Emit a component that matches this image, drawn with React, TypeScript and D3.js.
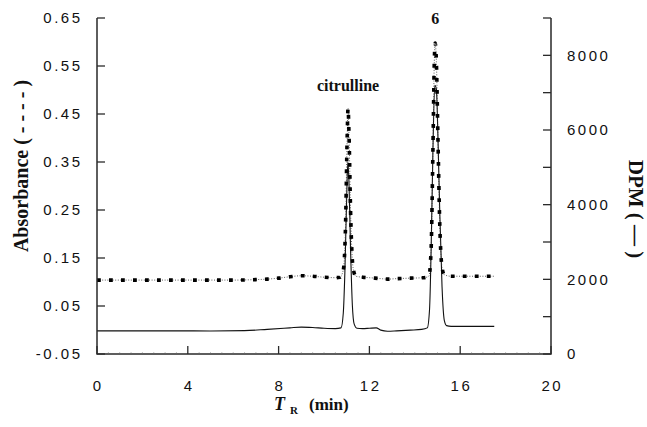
import React from "react";
import * as d3 from "d3";

// ---- data ----
const timeAbs = [0, 1, 2, 3, 4, 5, 6, 7, 7.5, 8, 8.5, 9, 9.5, 10, 10.5, 10.7, 10.85, 10.95, 11.02, 11.06, 11.1, 11.18, 11.28, 11.4, 11.7, 12, 12.5, 12.8, 13.2, 13.8, 14.4, 14.62, 14.72, 14.8, 14.86, 14.9, 14.95, 15.02, 15.1, 15.2, 15.3, 15.6, 16, 16.5, 17, 17.5];
const absorbance = [0.104, 0.104, 0.104, 0.104, 0.104, 0.104, 0.104, 0.105, 0.106, 0.108, 0.111, 0.113, 0.112, 0.11, 0.109, 0.11, 0.125, 0.22, 0.4, 0.462, 0.41, 0.23, 0.13, 0.112, 0.11, 0.109, 0.107, 0.106, 0.107, 0.108, 0.109, 0.112, 0.17, 0.38, 0.56, 0.598, 0.56, 0.4, 0.22, 0.13, 0.115, 0.112, 0.112, 0.112, 0.112, 0.112];

const timeDpm = [0, 2, 3.5, 5, 6.5, 7.5, 8.5, 9, 9.5, 10, 10.5, 10.75, 10.85, 10.92, 11.0, 11.05, 11.1, 11.17, 11.25, 11.33, 11.45, 11.7, 12, 12.3, 12.5, 12.8, 13.2, 13.8, 14.3, 14.55, 14.65, 14.72, 14.8, 14.88, 14.95, 15.02, 15.1, 15.2, 15.3, 15.4, 15.6, 16, 17, 17.5];
const dpm = [620, 620, 620, 618, 625, 660, 700, 720, 710, 690, 680, 700, 1100, 2200, 4200, 5150, 4600, 2800, 1300, 800, 690, 680, 690, 700, 640, 610, 620, 640, 660, 700, 1200, 2800, 5500, 7200, 7100, 5800, 3800, 1800, 900, 760, 740, 740, 740, 740];

const xTicks = [0, 4, 8, 12, 16, 20];
const absTicks = [-0.05, 0.05, 0.15, 0.25, 0.35, 0.45, 0.55, 0.65];
const absTickLabels = ["-0.05", "0.05", "0.15", "0.25", "0.35", "0.45", "0.55", "0.65"];
const dpmTicks = [0, 1000, 2000, 3000, 4000, 5000, 6000, 7000, 8000, 9000];
const dpmLabels = [0, 2000, 4000, 6000, 8000];

const W = 647;
const H = 427;
const left = 97;
const right = 551;
const top = 18;
const bottom = 354;

const SANS = "'Liberation Sans', Arial, Helvetica, sans-serif";
const SERIF = "'Liberation Serif', 'Times New Roman', Times, serif";
const LS = 2.5;

export default function App() {
  const x = d3.scaleLinear().domain([0, 20]).range([left, right]);
  const yAbs = d3.scaleLinear().domain([-0.05, 0.65]).range([bottom, top]);
  const yDpm = d3.scaleLinear().domain([0, 9000]).range([bottom, top]);

  const absLine = d3
    .line<number>()
    .x((_, i) => x(timeAbs[i]))
    .y((d) => yAbs(d))
    .curve(d3.curveMonotoneX)(absorbance) as string;

  const dpmLine = d3
    .line<number>()
    .x((_, i) => x(timeDpm[i]))
    .y((d) => yDpm(d))
    .curve(d3.curveMonotoneX)(dpm) as string;

  const minorX = d3.range(0.5, 20, 0.5).filter((t) => t % 4 !== 0);

  const axisColor = "#2a2a2a";

  return (
    <svg
      width={W}
      height={H}
      viewBox={`0 0 ${W} ${H}`}
      style={{ position: "absolute", left: 0, top: 0, background: "#fff" }}
    >
      {/* series */}
      <path d={dpmLine} fill="none" stroke="#111" strokeWidth={1.1} />
      <path d={absLine} fill="none" stroke="#333" strokeWidth={0.8} strokeDasharray="1 1.6" />
      <path d={absLine} fill="none" stroke="#000" strokeWidth={3.6} strokeDasharray="3.8 8.2" />

      {/* axes lines */}
      <path
        d={`M${left},${top}V${bottom}H${right}V${top}`}
        fill="none"
        stroke={axisColor}
        strokeWidth={1.5}
      />

      {/* left ticks */}
      {absTicks.map((v, i) => (
        <g key={`a${i}`}>
          <line x1={left} x2={left + 8} y1={yAbs(v)} y2={yAbs(v)} stroke={axisColor} strokeWidth={1.3} />
          <text
            x={80 + LS}
            y={yAbs(v)}
            dy="0.36em"
            textAnchor="end"
            fontFamily={SANS}
            fontSize={15}
            letterSpacing={LS}
            fill="#111"
          >
            {absTickLabels[i]}
          </text>
        </g>
      ))}

      {/* right ticks */}
      {dpmTicks.map((v) => (
        <line key={`d${v}`} x1={right - 8} x2={right} y1={yDpm(v)} y2={yDpm(v)} stroke={axisColor} strokeWidth={1.3} />
      ))}
      {dpmLabels.map((v) => (
        <text
          key={`dl${v}`}
          x={567}
          y={yDpm(v)}
          dy="0.36em"
          textAnchor="start"
          fontFamily={SANS}
          fontSize={15}
          letterSpacing={LS}
          fill="#111"
        >
          {v}
        </text>
      ))}

      {/* bottom ticks */}
      {xTicks.map((t) => (
        <g key={`x${t}`}>
          <line x1={x(t)} x2={x(t)} y1={bottom} y2={bottom - 8} stroke={axisColor} strokeWidth={1.3} />
          <text
            x={x(t) + LS / 2}
            y={391}
            textAnchor="middle"
            fontFamily={SANS}
            fontSize={15}
            letterSpacing={LS}
            fill="#111"
          >
            {t}
          </text>
        </g>
      ))}
      {minorX.map((t) => (
        <line key={`m${t}`} x1={x(t)} x2={x(t)} y1={bottom} y2={bottom - 1.5} stroke="#666" strokeWidth={0.8} />
      ))}

      {/* peak labels */}
      <text x={x(11.06)} y={91} textAnchor="middle" fontFamily={SERIF} fontWeight="bold" fontSize={16} fill="#111">
        citrulline
      </text>
      <text x={x(14.9)} y={24} textAnchor="middle" fontFamily={SERIF} fontWeight="bold" fontSize={16} fill="#111">
        6
      </text>

      {/* axis titles */}
      <text
        transform="translate(28,166) rotate(-90)"
        textAnchor="middle"
        fontFamily={SERIF}
        fontWeight="bold"
        fontSize={20}
        fill="#111"
      >
        Absorbance ( - - - - )
      </text>
      <text
        transform="translate(629,209) rotate(90)"
        textAnchor="middle"
        fontFamily={SERIF}
        fontWeight="bold"
        fontSize={21}
        fill="#111"
      >
        DPM ( — )
      </text>
      <text y={410} fontFamily={SERIF} fontWeight="bold" fill="#111">
        <tspan x={274} fontStyle="italic" fontSize={18}>T</tspan>
        <tspan x={290} dy={4} fontSize={11}>R</tspan>
        <tspan x={309} dy={-4} fontSize={17}>(min)</tspan>
      </text>
    </svg>
  );
}
